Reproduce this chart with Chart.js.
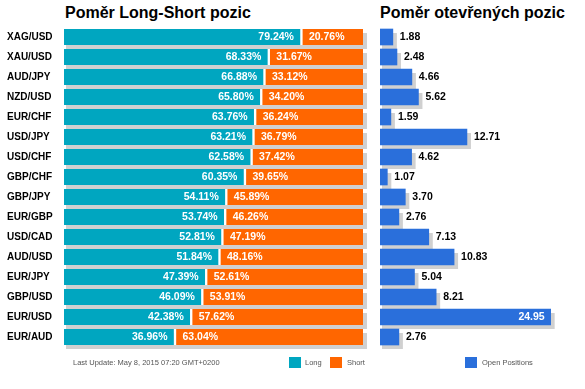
<!DOCTYPE html>
<html>
<head>
<meta charset="utf-8">
<script src="https://cdn.jsdelivr.net/npm/chart.js@4"></script>
<style>
  body { margin: 0; width: 585px; height: 389px; background: #fff; position: relative; overflow: hidden; font-family: Arial, "Liberation Sans", sans-serif; }
  canvas { position: absolute; top: 0; }
  .title { position: absolute; top: 5px; font-weight: bold; font-size: 16px; line-height: 16px; color: #000; white-space: nowrap; }
  .foot { position: absolute; top: 358px; font-size: 7.5px; line-height: 10px; color: #555; white-space: nowrap; }
  .sq { position: absolute; top: 357px; width: 12px; height: 11px; }
</style>
</head>
<body>
<div class="title" style="left:65px">Poměr Long-Short pozic</div>
<div class="title" style="left:380px">Poměr otevřených pozic</div>
<canvas id="ratioChart" width="375" height="389" style="left:0"></canvas>
<canvas id="openChart" width="210" height="389" style="left:375px"></canvas>

<div class="foot" style="left:73px">Last Update: May 8, 2015 07:20 GMT+0200</div>
<div class="sq" style="left:289px;background:#00a6c0"></div>
<div class="foot" style="left:305px">Long</div>
<div class="sq" style="left:330px;background:#ff6600"></div>
<div class="foot" style="left:347px">Short</div>
<div class="sq" style="left:465px;background:#2a6fdb"></div>
<div class="foot" style="left:482px">Open Positions</div>

<script>
const pairs = ['XAG/USD', 'XAU/USD', 'AUD/JPY', 'NZD/USD', 'EUR/CHF', 'USD/JPY', 'USD/CHF', 'GBP/CHF',
  'GBP/JPY', 'EUR/GBP', 'USD/CAD', 'AUD/USD', 'EUR/JPY', 'GBP/USD', 'EUR/USD', 'EUR/AUD'];
const longPct = [79.24, 68.33, 66.88, 65.80, 63.76, 63.21, 62.58, 60.35, 54.11, 53.74, 52.81, 51.84, 47.39, 46.09, 42.38, 36.96];
const shortPct = [20.76, 31.67, 33.12, 34.20, 36.24, 36.79, 37.42, 39.65, 45.89, 46.26, 47.19, 48.16, 52.61, 53.91, 57.62, 63.04];
const openPos = [1.88, 2.48, 4.66, 5.62, 1.59, 12.71, 4.62, 1.07, 3.70, 2.76, 7.13, 10.83, 5.04, 8.21, 24.95, 2.76];

const LABEL_FONT = 'bold 10.5px Arial, "Liberation Sans", sans-serif';

// gray drop shadow behind each row
const shadowPlugin = {
  id: 'shadow',
  beforeDatasetsDraw(chart) {
    const c = chart.ctx;
    const xs = chart.scales.x;
    const first = chart.getDatasetMeta(0).data;
    const last = chart.getDatasetMeta(chart.data.datasets.length - 1).data;
    c.save();
    c.fillStyle = '#d0d0d0';
    first.forEach((bar, i) => {
      const x0 = xs.getPixelForValue(0);
      const x1 = last[i].x;
      const h = bar.height;
      c.fillRect(x0 + 2, bar.y - h / 2 + 4, x1 - x0 + 2, h);
    });
    c.restore();
  }
};

// value labels
const ratioLabels = {
  id: 'ratioLabels',
  afterDatasetsDraw(chart) {
    const c = chart.ctx;
    c.save();
    c.font = LABEL_FONT;
    c.fillStyle = '#fff';
    c.textBaseline = 'middle';
    chart.getDatasetMeta(0).data.forEach((bar, i) => {
      c.textAlign = 'right';
      c.fillText(longPct[i].toFixed(2) + '%', bar.x - 7, bar.y + 0.5);
    });
    chart.getDatasetMeta(1).data.forEach((bar, i) => {
      c.textAlign = 'left';
      c.fillText(shortPct[i].toFixed(2) + '%', bar.base + 8, bar.y + 0.5);
    });
    c.restore();
  }
};

const openLabels = {
  id: 'openLabels',
  afterDatasetsDraw(chart) {
    const c = chart.ctx;
    c.save();
    c.font = LABEL_FONT;
    c.textBaseline = 'middle';
    chart.getDatasetMeta(0).data.forEach((bar, i) => {
      const txt = openPos[i].toFixed(2);
      if (openPos[i] > 20) {
        c.fillStyle = '#fff';
        c.textAlign = 'right';
        c.fillText(txt, bar.x - 6, bar.y + 0.5);
      } else {
        c.fillStyle = '#000';
        c.textAlign = 'left';
        c.fillText(txt, bar.x + 7, bar.y + 0.5);
      }
    });
    c.restore();
  }
};

new Chart(document.getElementById('ratioChart'), {
  type: 'bar',
  data: {
    labels: pairs,
    datasets: [{
      label: 'Long',
      data: longPct,
      backgroundColor: '#00a6c0',
      borderColor: '#fff',
      borderWidth: { left: 0, top: 0, bottom: 0, right: 1 },
      borderSkipped: false,
      barThickness: 16
    }, {
      label: 'Short',
      data: shortPct,
      backgroundColor: '#ff6600',
      borderColor: '#fff',
      borderWidth: { left: 2, top: 0, bottom: 0, right: 0 },
      borderSkipped: false,
      barThickness: 16
    }]
  },
  options: {
    indexAxis: 'y',
    responsive: false,
    animation: false,
    layout: { padding: { left: 7, top: 27, right: 12, bottom: 42 } },
    plugins: { legend: { display: false }, tooltip: { enabled: false } },
    scales: {
      x: { stacked: true, min: 0, max: 100, display: false },
      y: {
        stacked: true,
        grid: { display: false },
        border: { display: false },
        ticks: {
          crossAlign: 'far',
          color: '#000',
          font: { family: 'Arial, "Liberation Sans", sans-serif', size: 10, weight: 'bold' }
        },
        afterFit(scale) { scale.width = 57; }
      }
    }
  },
  plugins: [shadowPlugin, ratioLabels]
});

new Chart(document.getElementById('openChart'), {
  type: 'bar',
  data: {
    labels: pairs,
    datasets: [{
      label: 'Open Positions',
      data: openPos,
      backgroundColor: '#2a6fdb',
      borderWidth: 0,
      barThickness: 16
    }]
  },
  options: {
    indexAxis: 'y',
    responsive: false,
    animation: false,
    layout: { padding: { left: 5, top: 27, right: 34, bottom: 42 } },
    plugins: { legend: { display: false }, tooltip: { enabled: false } },
    scales: {
      x: { min: 0, max: 25, display: false },
      y: { display: false }
    }
  },
  plugins: [shadowPlugin, openLabels]
});
</script>
</body>
</html>
